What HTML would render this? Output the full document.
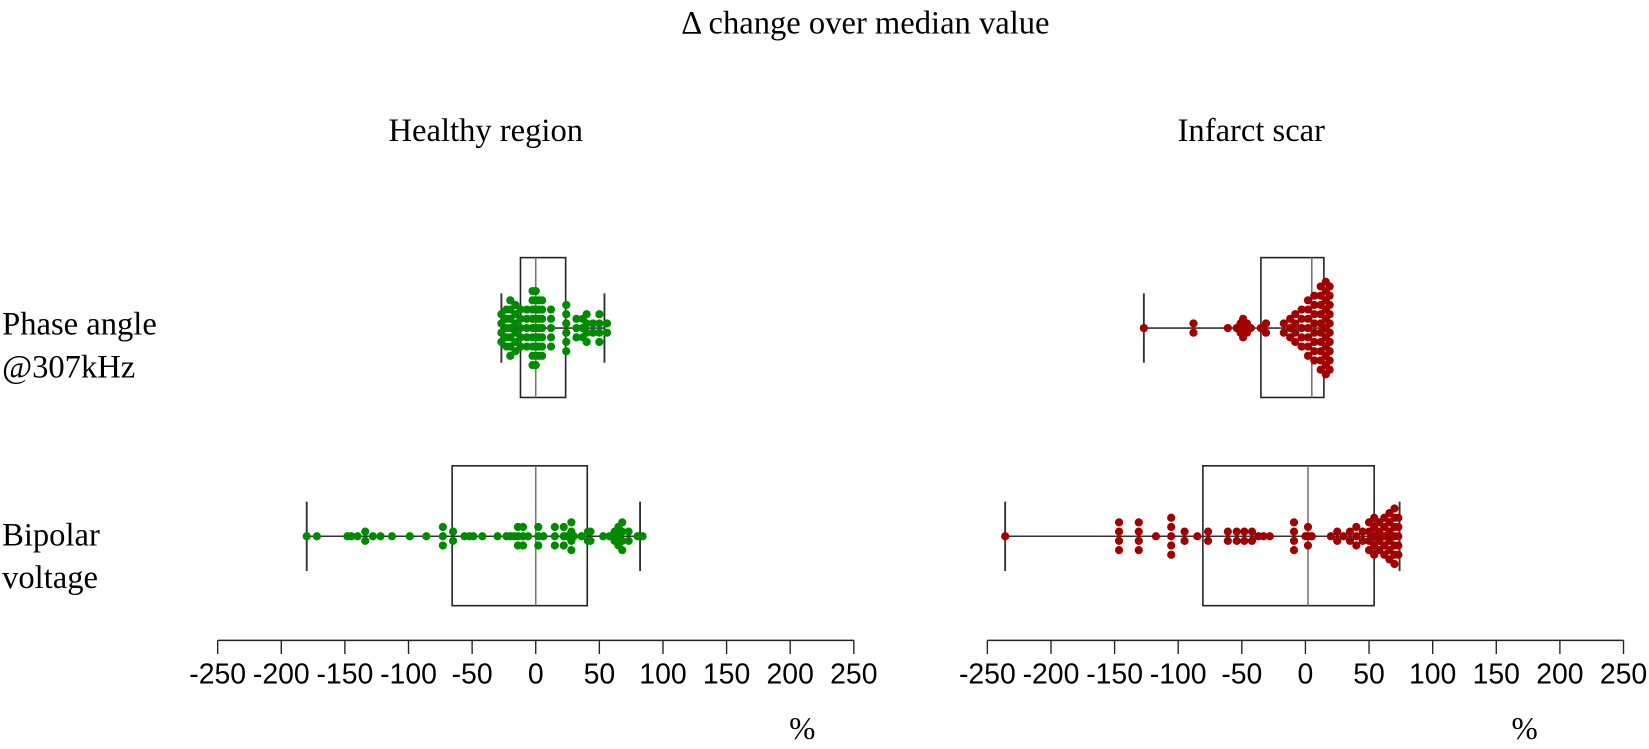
<!DOCTYPE html>
<html><head><meta charset="utf-8">
<style>
body{margin:0;background:#fff}
svg{display:block}
.serif{font-family:"Liberation Serif",serif;fill:#000}
.sans{font-family:"Liberation Sans",sans-serif;fill:#000}
</style></head>
<body>
<svg id="chart" width="1649" height="749" viewBox="0 0 1649 749">
<g transform="scale(1.0515)">
<text class="serif" x="823" y="32" font-size="31" text-anchor="middle">Δ change over median value</text>
<text class="serif" x="462" y="134" font-size="31" text-anchor="middle">Healthy region</text>
<text class="serif" x="1190" y="134" font-size="31" text-anchor="middle">Infarct scar</text>
<text class="serif" x="2" y="318" font-size="31">Phase angle</text>
<text class="serif" x="2" y="359" font-size="31">@307kHz</text>
<text class="serif" x="2" y="519" font-size="31">Bipolar</text>
<text class="serif" x="2" y="559" font-size="31">voltage</text>
<g id="plot"></g>
</g>
</svg>
<script>
const ticks = [-250,-200,-150,-100,-50,0,50,100,150,200,250];
// Healthy, phase angle
const hpValues = [-27,-27,-27,-27,-23,-23,-23,-23,-23,-20,-20,-20,-20,-20,-20,-20,-16,-16,-16,-16,-16,-16,-12,-12,-12,-12,-12,-7,-7,-7,-7,-7,-2.5,-2.5,-2.5,-2.5,-2.5,-2.5,-2.5,-2.5,-2.5,0,0,0,0,0,0,0,0,0,2.5,2.5,2.5,2.5,2.5,2.5,2.5,5,5,5,5,5,5,5,12,12,12,12,12,24,24,24,24,24,24,32,32,32,37,37,37,40,40,40,40,45,45,50,50,50,50,56,56];
const hpBox = [-27,-12,0,23.5,54];
// Healthy, bipolar
const hbValues = [-180,-172,-148,-145,-140,-134,-134,-128,-122,-113,-99,-86,-73,-73,-73,-65,-65,-56,-52,-49,-42,-30,-23,-20,-17,-14,-14,-14,-10,-10,-10,-6,2,2,2,6,15,15,15,22,22,22,25,28,28,28,28,30,36,41,41,43,43,53,58,62,62,65,65,65,68,68,68,68,73,73,80,84];
const hbBox = [-180,-65.7,0,40.5,82];
// Infarct, phase angle
const ipValues = [-127,-88,-88,-61,-54,-51,-51,-49,-49,-49,-46,-46,-43,-35,-34,-31,-31,-17,-17,-12,-12,-12,-8,-8,-8,-8,-3,-3,-3,-3,-3,2,2,2,2,2,2,2,7,7,7,7,7,7,7,7,12,12,12,12,12,12,12,12,12,12,16,16,16,16,16,16,16,16,16,16,16,19,19,19,19,19,19,19,19,19,19];
const ipBox = [-127,-35,5,14.5,18];
// Infarct, bipolar
const ibValues = [-236,-146.5,-146.5,-146.5,-146.5,-131,-131,-131,-131,-117.5,-105.5,-105.5,-105.5,-105.5,-105.5,-95,-95,-85,-76.5,-76.5,-61,-61,-54,-54,-48,-48,-42,-42,-37,-33,-28,-9,-9,-9,-9,0,2,2,2,5,20,25,25,30,35,35,40,40,40,45,45,50,50,50,50,54,54,54,54,54,58,58,58,58,62,62,62,62,62,66,66,66,66,66,66,70,70,70,70,70,70,70,73,73,73,73,73];
const ibBox = [-236,-80.6,2,54,74];

const NS='http://www.w3.org/2000/svg';
const plot=document.getElementById('plot');
function mk(tag,attrs){const e=document.createElementNS(NS,tag);for(const k in attrs)e.setAttribute(k,attrs[k]);plot.appendChild(e);return e;}
function scaleFor(x0,x1){return v=>x0+(v+250)/500*(x1-x0);}
const sL=scaleFor(207,812), sR=scaleFor(939,1544);

function axis(s,label,name){
  let l=mk('line',{x1:s(-250),x2:s(250),y1:609,y2:609,stroke:'#222','stroke-width':1.5});
  
  
  ticks.forEach(t=>{
    let tk=mk('line',{x1:s(t),x2:s(t),y1:609,y2:622,stroke:'#222','stroke-width':1.3});
    
    
    let tx=mk('text',{x:s(t),y:650,'font-size':27,'text-anchor':'middle',class:'sans'});
    tx.textContent=String(t);
    
    
  });
  let p=mk('text',{x:label,y:703,'font-size':30,'text-anchor':'middle',class:'serif'});
  p.textContent='%';
  
  
}
axis(sL,763,'healthy');
axis(sR,1450,'infarct');

function box(s,b,cy,name){
  const g=mk('g',{});
  
  
  const ln=(a)=>{const e=document.createElementNS(NS,'line');for(const k in a)e.setAttribute(k,a[k]);g.appendChild(e);return e;};
  ln({x1:s(b[0]),x2:s(b[4]),y1:cy,y2:cy,stroke:'#333','stroke-width':1.5});
  ln({x1:s(b[0]),x2:s(b[0]),y1:cy-33,y2:cy+33,stroke:'#333','stroke-width':1.8});
  ln({x1:s(b[4]),x2:s(b[4]),y1:cy-33,y2:cy+33,stroke:'#333','stroke-width':1.8});
  const r=document.createElementNS(NS,'rect');
  r.setAttribute('x',s(b[1]));r.setAttribute('y',cy-67);
  r.setAttribute('width',s(b[3])-s(b[1]));r.setAttribute('height',133);
  r.setAttribute('fill','none');r.setAttribute('stroke','#222');r.setAttribute('stroke-width',1.5);
  g.appendChild(r);
  ln({x1:s(b[2]),x2:s(b[2]),y1:cy-67,y2:cy+66,stroke:'#777','stroke-width':1.5});
}
function dots(s,vals,cy,color,name){
  const counts={};
  vals.forEach(v=>{counts[v]=(counts[v]||0)+1;});
  const idx={};
  vals.forEach(v=>{
    idx[v]=(idx[v]||0);
    const n=counts[v], i=idx[v]++;
    const c=mk('circle',{cx:s(v),cy:cy+(i-(n-1)/2)*8.8,r:3.9,fill:color});
    
    
  });
}
box(sL,hpBox,312,'healthy-phase');
box(sL,hbBox,510,'healthy-bipolar');
box(sR,ipBox,312,'infarct-phase');
box(sR,ibBox,510,'infarct-bipolar');
dots(sL,hpValues,312,'#008a00','healthy-phase');
dots(sL,hbValues,510,'#008a00','healthy-bipolar');
dots(sR,ipValues,312,'#a00000','infarct-phase');
dots(sR,ibValues,510,'#a00000','infarct-bipolar');
</script>
</body></html>
